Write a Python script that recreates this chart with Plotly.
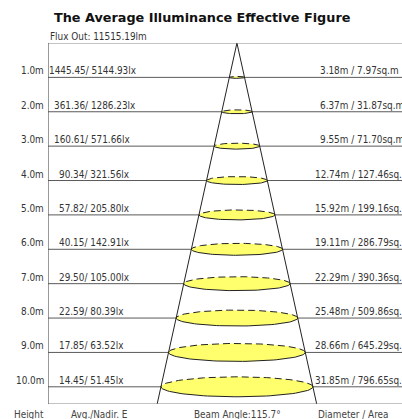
import numpy as np
import plotly.graph_objects as go

title = "The Average Illuminance Effective Figure"
flux = "Flux Out: 11515.19lm"
heights = [1.0, 2.0, 3.0, 4.0, 5.0, 6.0, 7.0, 8.0, 9.0, 10.0]
avg_e = ["1445.45", "361.36", "160.61", "90.34", "57.82", "40.15", "29.50", "22.59", "17.85", "14.45"]
nadir_e = ["5144.93", "1286.23", "571.66", "321.56", "205.80", "142.91", "105.00", "80.39", "63.52", "51.45"]
diameters = [3.18, 6.37, 9.55, 12.74, 15.92, 19.11, 22.29, 25.48, 28.66, 31.85]
areas = [7.97, 31.87, 71.70, 127.46, 199.16, 286.79, 390.36, 509.86, 645.29, 796.65]
beam_angle = 115.7
footer = ["Height", "Avg./Nadir. E", f"Beam Angle:{beam_angle}°", "Diameter / Area"]

FONT = "DejaVu Sans Condensed, DejaVu Sans, sans-serif"
YMAX = 10.5
XMIN, XMAX = -39.6, 34.6
ML, PW = 48, 354
half_cone = diameters[-1] / 2 / heights[-1]


def pxx(px):
    return (px - ML) / PW


fig = go.Figure()

# row lines
for h in heights:
    fig.add_shape(type="line", x0=XMIN, x1=XMAX + 20, y0=h, y1=h, xref="x", yref="y",
                  line=dict(color="#5a5a5a", width=1), layer="below")

# frame
fig.add_shape(type="line", x0=XMIN, x1=XMAX + 20, y0=0, y1=0, line=dict(color="#888", width=1.2))
fig.add_shape(type="line", x0=XMIN, x1=XMAX + 20, y0=YMAX, y1=YMAX, line=dict(color="#888", width=1.2))
fig.add_shape(type="line", x0=XMIN, x1=XMIN, y0=0, y1=YMAX, line=dict(color="#555", width=1.2))

# ellipses
t = np.linspace(0, np.pi, 60)
for h, d in zip(heights, diameters):
    a = d / 2
    b = 0.029 * h
    xs_top = a * np.cos(t)
    ys_top = h - b * np.sin(t)
    xs_bot = a * np.cos(t[::-1])
    ys_bot = h + b * np.sin(t[::-1])
    fig.add_trace(go.Scatter(x=np.concatenate([xs_top, xs_bot]), y=np.concatenate([ys_top, ys_bot]),
                             fill="toself", fillcolor="#ffff6e", mode="lines",
                             line=dict(width=0), hoverinfo="skip", showlegend=False))
    fig.add_trace(go.Scatter(x=xs_top, y=ys_top, mode="lines",
                             line=dict(color="#222", width=1, dash="7px,4px"),
                             hoverinfo="skip", showlegend=False))
    fig.add_trace(go.Scatter(x=xs_bot, y=ys_bot, mode="lines",
                             line=dict(color="#222", width=1),
                             hoverinfo="skip", showlegend=False))

# cone
for s in (-1, 1):
    fig.add_trace(go.Scatter(x=[0, s * half_cone * YMAX], y=[0, YMAX], mode="lines",
                             line=dict(color="#222", width=1), hoverinfo="skip", showlegend=False))

FS = 9.9
# labels
for h, av, nd, d, ar in zip(heights, avg_e, nadir_e, diameters, areas):
    fig.add_annotation(x=pxx(46), y=h, xref="paper", yref="y", text=f"{h:.1f}m",
                       showarrow=False, xanchor="right", yanchor="bottom", yshift=-1,
                       font=dict(family=FONT, size=FS, color="#333"))
    fig.add_annotation(x=-38.6, y=h, xref="x", yref="y",
                       xshift=-6 + 5 * (4 - len(av.split(".")[0])),
                       text=f"{av}/ {nd}lx", showarrow=False, xanchor="left", yanchor="bottom", yshift=-1,
                       font=dict(family=FONT, size=FS, color="#333"))
    fig.add_annotation(x=16.0, y=h, xref="x", yref="y",
                       xshift=5 * (2 - len(f"{d:.2f}".split(".")[0])),
                       text=f"{d:.2f}m / {ar:.2f}sq.m", showarrow=False, xanchor="left", yanchor="bottom",
                       yshift=-1, font=dict(family=FONT, size=FS, color="#333"))

fig.add_annotation(x=0, y=1, xref="paper", yref="paper", text=flux, showarrow=False,
                   xanchor="left", yanchor="bottom", yshift=-1,
                   font=dict(family=FONT, size=FS, color="#333"))

fig.add_annotation(x=pxx(202), y=1, xref="paper", yref="paper", text=f"<b>{title}</b>",
                   showarrow=False, xanchor="center", yanchor="middle", yshift=26,
                   font=dict(family="DejaVu Sans, sans-serif", size=12.8, color="#111"))

foot_x = [29, 99, 237, 353]
for txt, fx in zip(footer, foot_x):
    fig.add_annotation(x=pxx(fx), y=0, xref="paper", yref="paper", text=txt,
                       showarrow=False, xanchor="center", yanchor="top", yshift=-3,
                       font=dict(family=FONT, size=FS, color="#444"))

fig.update_layout(
    width=402, height=419,
    margin=dict(l=ML, r=0, t=43, b=15, pad=0),
    paper_bgcolor="white", plot_bgcolor="white",
    xaxis=dict(range=[XMIN, XMAX], visible=False, fixedrange=True),
    yaxis=dict(range=[YMAX, 0], visible=False, fixedrange=True),
    showlegend=False,
)
fig.write_html("out.html", config={"displayModeBar": False},
               post_script="document.body.style.margin='0';document.body.style.overflow='hidden';")
